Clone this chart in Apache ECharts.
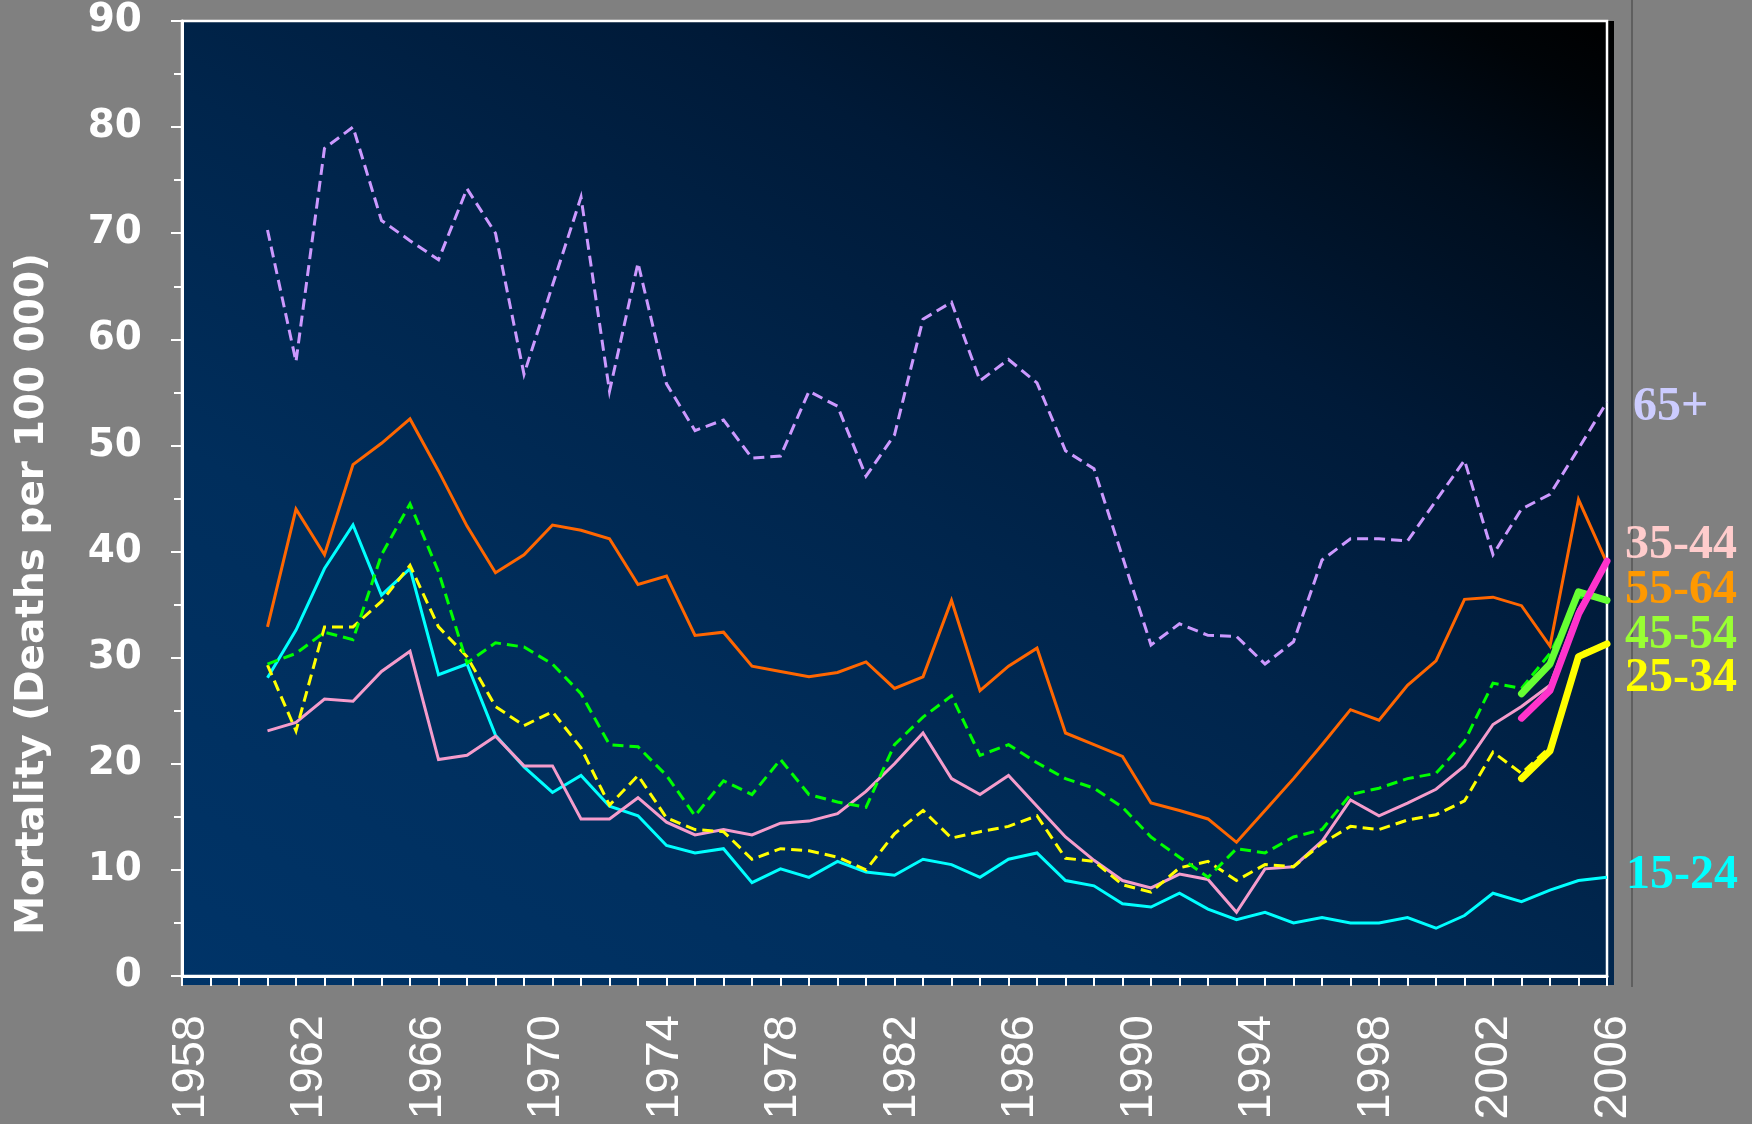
<!DOCTYPE html>
<html>
<head>
<meta charset="utf-8">
<script src="https://cdn.jsdelivr.net/npm/echarts@6/dist/echarts.min.js"></script>
<style>
html,body{margin:0;padding:0;background:#808080;}
#chart{width:1752px;height:1124px;}
</style>
</head>
<body>
<div id="chart"></div>
<script>
// Tick slots of the category axis (one per data tick)
const years = [1956,1957,1958,1959,1960,1961,1962,1963,1964,1965,1966,1967,1968,1969,1970,1971,1972,1973,1974,1975,1976,1977,1978,1979,1980,1981,1982,1983,1984,1985,1986,1987,1988,1989,1990,1991,1992,1993,1994,1995,1996,1997,1998,1999,2000,2001,2002,2003,2004,2005,2006];
// Printed axis labels
const labelYears = [1958,1959,1960,1961,1962,1963,1964,1965,1966,1967,1968,1969,1970,1971,1972,1973,1974,1975,1976,1977,1978,1979,1980,1981,1982,1983,1984,1985,1986,1987,1988,1989,1990,1991,1992,1993,1994,1995,1996,1997,1998,1999,2000,2001,2002,2003,2004,2005,2006];

const age65 = [null,null,null,70.3,57.9,78.0,80.0,71.2,69.3,67.5,74.2,70.0,56.7,65.1,73.4,55.1,67.2,55.8,51.4,52.4,48.8,49.0,55.1,53.7,47.1,51.0,61.9,63.5,56.1,58.1,55.9,49.5,47.8,39.5,31.2,33.2,32.1,32.0,29.4,31.5,39.2,41.2,41.2,41.0,44.8,48.6,39.7,44.0,45.4,49.7,54.1];
const age55 = [null,null,null,32.9,44.0,39.7,48.2,50.2,52.5,47.6,42.4,38.0,39.7,42.5,42.0,41.2,36.9,37.7,32.1,32.4,29.2,28.7,28.2,28.6,29.6,27.1,28.2,35.4,26.9,29.2,30.9,22.9,21.8,20.7,16.3,15.6,14.8,12.6,15.6,18.6,21.8,25.1,24.1,27.4,29.7,35.5,35.7,34.9,31.1,44.9,38.9];
const age45 = [null,null,null,29.4,30.4,32.4,31.7,39.7,44.5,38.1,29.5,31.4,31.0,29.4,26.6,21.8,21.6,18.9,15.1,18.4,17.1,20.4,17.1,16.4,15.9,21.8,24.4,26.4,20.8,21.8,20.1,18.6,17.7,15.9,13.1,11.2,9.3,12.0,11.6,13.1,13.8,17.1,17.7,18.6,19.1,22.1,27.6,27.1,30.4,35.7,35.6];
const age35 = [null,null,null,23.1,23.9,26.1,25.9,28.7,30.6,20.4,20.8,22.6,19.8,19.8,14.8,14.8,16.8,14.5,13.3,13.8,13.3,14.4,14.6,15.3,17.4,20.0,22.9,18.6,17.1,18.9,16.0,13.1,10.9,9.0,8.3,9.6,9.1,6.0,10.1,10.3,12.7,16.6,15.1,16.3,17.6,19.8,23.7,25.4,27.4,34.5,39.0];
const age25 = [null,null,null,29.3,23.1,32.9,32.9,35.3,38.7,32.9,30.1,25.4,23.6,24.9,21.5,16.1,18.9,14.9,13.8,13.6,11.0,12.0,11.8,11.2,10.0,13.4,15.6,13.0,13.6,14.1,15.1,11.1,10.8,8.6,7.9,10.2,10.8,9.0,10.5,10.3,12.5,14.1,13.8,14.7,15.2,16.5,21.1,19.1,21.6,30.3,31.4];
const age15 = [null,null,null,28.1,32.6,38.4,42.5,35.9,38.4,28.4,29.4,22.7,19.7,17.3,18.9,16.0,15.1,12.3,11.6,12.0,8.8,10.1,9.3,10.8,9.8,9.5,11.0,10.5,9.3,11.0,11.6,9.0,8.5,6.8,6.5,7.8,6.3,5.3,6.0,5.0,5.5,5.0,5.0,5.5,4.5,5.7,7.8,7.0,8.1,9.0,9.3];

// Highlighted recent years (2003-2006)
const recentYears = [2003,2004,2005,2006];
const recent45 = [26.6,29.4,36.2,35.4];
const recent35 = [24.3,26.9,34.1,39.1];
const recent25 = [18.6,21.2,30.1,31.3];

const groupLabels = ['65+','35-44','55-64','45-54','25-34','15-24'];

function pad(recent){
  const out = years.map(() => null);
  recent.forEach((v,i)=>{ out[years.indexOf(recentYears[i])] = v; });
  return out;
}

const chart = echarts.init(document.getElementById('chart'), null, {renderer:'canvas'});

function thin(name, data, color, dashed){
  return {
    name, type:'line', data, symbol:'none', clip:false, animation:false, silent:true,
    xAxisIndex:0, yAxisIndex:0, z:3,
    lineStyle:{color, width:3, type: dashed ? [11,6] : 'solid', cap:'butt', join:'miter'}
  };
}
function thick(name, data, color){
  return {
    name, type:'line', data: pad(data), symbol:'none', clip:false, animation:false, silent:true,
    xAxisIndex:0, yAxisIndex:0, z:5,
    lineStyle:{color, width:7, cap:'round', join:'round'}
  };
}

// global gradient: from bottom-left towards the top-right corner
const bgGrad = new echarts.graphic.LinearGradient(182, 985, 957, -358, [
  {offset:0, color:'#003468'},
  {offset:0.3, color:'#002e5c'},
  {offset:0.5, color:'#00254c'},
  {offset:0.7, color:'#001a38'},
  {offset:0.86, color:'#000e1e'},
  {offset:0.95, color:'#000408'},
  {offset:1, color:'#000000'}
], true);

const labelFont = '"DejaVu Sans"';
const serif = '"Liberation Serif"';

const option = {
  backgroundColor:'#808080',
  animation:false,
  grid:[
    {left:182, right:145, top:21, bottom:148, show:true, borderColor:'#ffffff', borderWidth:2.5, backgroundColor:'transparent', z:1},
    {left:191, right:139, top:21, bottom:148, show:false}
  ],
  xAxis:[
    {
      type:'category', gridIndex:0, data:years, boundaryGap:false,
      axisLine:{show:true, lineStyle:{color:'#ffffff', width:3}},
      axisTick:{show:true, interval:0, length:10, lineStyle:{color:'#ffffff', width:2}},
      axisLabel:{show:false},
      splitLine:{show:false}
    },
    {
      type:'category', gridIndex:1, data:labelYears, boundaryGap:false,
      axisLine:{show:false}, axisTick:{show:false}, splitLine:{show:false},
      axisLabel:{show:true, interval:3, rotate:90, margin:39, color:'#ffffff', fontSize:47, fontFamily:'"Liberation Sans"'}
    }
  ],
  yAxis:[
    {
      type:'value', gridIndex:0, min:0, max:90, interval:10,
      axisLine:{show:true, lineStyle:{color:'#ffffff', width:3}},
      axisTick:{show:true, length:11, lineStyle:{color:'#ffffff', width:2}},
      minorTick:{show:true, splitNumber:2, length:8, lineStyle:{color:'#ffffff', width:2}},
      splitLine:{show:false},
      axisLabel:{color:'#ffffff', fontSize:39, fontWeight:'bold', fontFamily:labelFont, margin:40}
    },
    {type:'value', gridIndex:1, min:0, max:90, show:false}
  ],
  graphic:[
    {type:'rect', z:-10, silent:true, shape:{x:182, y:21, width:1432, height:964}, style:{fill:bgGrad}},
    {type:'line', z:-10, silent:true, shape:{x1:1632, y1:0, x2:1632, y2:987}, style:{stroke:'#555555', lineWidth:1.5}},
    {type:'text', silent:true, x:33, y:594, rotation:Math.PI/2,
      style:{text:'Mortality (Deaths per 100 000)', fill:'#ffffff', font:'bold 39px '+labelFont, align:'center', verticalAlign:'middle'}},
    {type:'text', silent:true, x:1633, y:408, style:{text:groupLabels[0], fill:'#ccccff', font:'bold 48px '+serif, align:'left', verticalAlign:'middle'}},
    {type:'text', silent:true, x:1625, y:546, style:{text:groupLabels[1], fill:'#ffcccc', font:'bold 48px '+serif, align:'left', verticalAlign:'middle'}},
    {type:'text', silent:true, x:1625, y:591, style:{text:groupLabels[2], fill:'#ff9900', font:'bold 48px '+serif, align:'left', verticalAlign:'middle'}},
    {type:'text', silent:true, x:1625, y:636, style:{text:groupLabels[3], fill:'#99ff33', font:'bold 48px '+serif, align:'left', verticalAlign:'middle'}},
    {type:'text', silent:true, x:1625, y:679, style:{text:groupLabels[4], fill:'#ffff00', font:'bold 48px '+serif, align:'left', verticalAlign:'middle'}},
    {type:'text', silent:true, x:1626, y:876, style:{text:groupLabels[5], fill:'#00ffff', font:'bold 48px '+serif, align:'left', verticalAlign:'middle'}}
  ],
  series:[
    thin('15-24', age15, '#00ffff', false),
    thin('35-44', age35, '#f59ccc', false),
    thin('25-34', age25, '#ffff00', true),
    thin('45-54', age45, '#00ff00', true),
    thin('55-64', age55, '#ff6600', false),
    thin('65+', age65, '#cc99ff', true),
    thick('25-34 recent', recent25, '#ffff00'),
    thick('45-54 recent', recent45, '#66ff33'),
    thick('35-44 recent', recent35, '#ff33cc')
  ]
};
chart.setOption(option);
</script>
</body>
</html>
